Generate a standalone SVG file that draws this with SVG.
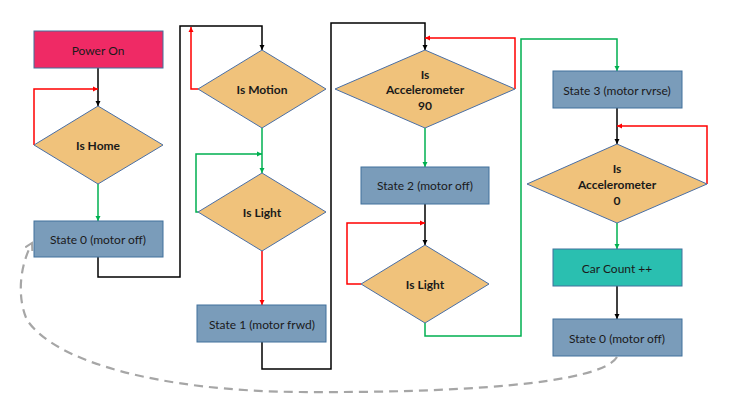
<svg xmlns="http://www.w3.org/2000/svg" width="739" height="412" viewBox="0 0 739 412">
<style>
.box{stroke:#41719C;stroke-width:1}
.st{fill:#7A9CBA}
.dia{fill:#F0C27B;stroke:#4A6FA5;stroke-width:1}
.t{font-family:Lato,"Open Sans",sans-serif;font-size:12px;fill:#1a1a1a;text-anchor:middle;dominant-baseline:central}
.b{font-weight:bold}
.k{fill:none;stroke:#000;stroke-width:1.5}
.r{fill:none;stroke:#FF0000;stroke-width:1.5}
.g{fill:none;stroke:#00B050;stroke-width:1.5}
.d{fill:none;stroke:#A6A6A6;stroke-width:2.2;stroke-dasharray:9,6}
</style>
<defs>
<marker id="ak" markerUnits="userSpaceOnUse" markerWidth="6" markerHeight="6" refX="5" refY="3" orient="auto"><path d="M0,0.5 L5,3 L0,5.5z" fill="#000"/></marker>
<marker id="ar" markerUnits="userSpaceOnUse" markerWidth="6" markerHeight="6" refX="5" refY="3" orient="auto"><path d="M0,0.5 L5,3 L0,5.5z" fill="#FF0000"/></marker>
<marker id="ag" markerUnits="userSpaceOnUse" markerWidth="6" markerHeight="6" refX="5" refY="3" orient="auto"><path d="M0,0.5 L5,3 L0,5.5z" fill="#00B050"/></marker>
<marker id="ad" markerUnits="userSpaceOnUse" markerWidth="10" markerHeight="10" refX="7" refY="5" orient="auto"><path d="M0,1 L7,5 L0,9" fill="none" stroke="#A6A6A6" stroke-width="2"/></marker>
</defs>
<g id="connectors">
<path class="k" d="M98,68 V106" marker-end="url(#ak)"/>
<path class="r" d="M34,145 V89 H98" marker-end="url(#ar)"/>
<path class="g" d="M98,184 V221" marker-end="url(#ag)"/>
<path class="k" d="M98,257 V277 H180 V26 H262 V50" marker-end="url(#ak)"/>
<path class="r" d="M198,89 H191 V27" marker-end="url(#ar)"/>
<path class="g" d="M262,128 V173" marker-end="url(#ag)"/>
<path class="g" d="M198,212 H196 V154 H262" marker-end="url(#ag)"/>
<path class="r" d="M262,251 V305" marker-end="url(#ar)"/>
<path class="k" d="M262,342 V369 H331 V23 H425 V50" marker-end="url(#ak)"/>
<path class="r" d="M515,89 V38 H425" marker-end="url(#ar)"/>
<path class="g" d="M425,128 V167" marker-end="url(#ag)"/>
<path class="k" d="M425,204 V245" marker-end="url(#ak)"/>
<path class="r" d="M361,284 H347 V223 H425" marker-end="url(#ar)"/>
<path class="g" d="M425,323 V336 H521 V39 H617 V71" marker-end="url(#ag)"/>
<path class="k" d="M617,108 V144" marker-end="url(#ak)"/>
<path class="r" d="M707,184 V126 H617" marker-end="url(#ar)"/>
<path class="g" d="M617,223 V249" marker-end="url(#ag)"/>
<path class="k" d="M617,286 V319" marker-end="url(#ak)"/>
<path class="d" d="M617,357 C600,385 450,393 300,392 C160,391 55,362 27,320 C18,300 18,270 32,243" marker-end="url(#ad)"/>
</g>
<g id="power-on"><rect class="box" x="34" y="31" width="129" height="37" fill="#EF2A65"/><text class="t" x="98" y="50">Power On</text></g>
<g id="is-home"><polygon class="dia" points="98,106 163,145 98,184 34,145"/><text class="t b" x="98" y="145">Is Home</text></g>
<g id="state0a"><rect class="box st" x="34" y="221" width="129" height="36"/><text class="t" x="98" y="239">State 0 (motor off)</text></g>
<g id="is-motion"><polygon class="dia" points="262,50 326,89 262,128 198,89"/><text class="t b" x="262" y="89">Is Motion</text></g>
<g id="is-light1"><polygon class="dia" points="262,173 326,212 262,251 198,212"/><text class="t b" x="262" y="212">Is Light</text></g>
<g id="state1"><rect class="box st" x="197" y="305" width="129" height="37"/><text class="t" x="262" y="324">State 1 (motor frwd)</text></g>
<g id="is-accel90"><polygon class="dia" points="425,50 515,89 425,128 335,89"/><text class="t b" x="425" y="74">Is</text><text class="t b" x="425" y="89">Accelerometer</text><text class="t b" x="425" y="105">90</text></g>
<g id="state2"><rect class="box st" x="361" y="167" width="128" height="37"/><text class="t" x="425" y="185">State 2 (motor off)</text></g>
<g id="is-light2"><polygon class="dia" points="425,245 489,284 425,323 361,284"/><text class="t b" x="425" y="284">Is Light</text></g>
<g id="state3"><rect class="box st" x="553" y="71" width="129" height="37"/><text class="t" x="617" y="90">State 3 (motor rvrse)</text></g>
<g id="is-accel0"><polygon class="dia" points="617,144 707,184 617,223 527,184"/><text class="t b" x="617" y="168">Is</text><text class="t b" x="617" y="184">Accelerometer</text><text class="t b" x="617" y="200">0</text></g>
<g id="car-count"><rect class="box" x="553" y="249" width="129" height="37" fill="#2ABFB0"/><text class="t" x="617" y="268">Car Count ++</text></g>
<g id="state0b"><rect class="box st" x="553" y="319" width="129" height="37"/><text class="t" x="617" y="338">State 0 (motor off)</text></g>
</svg>
